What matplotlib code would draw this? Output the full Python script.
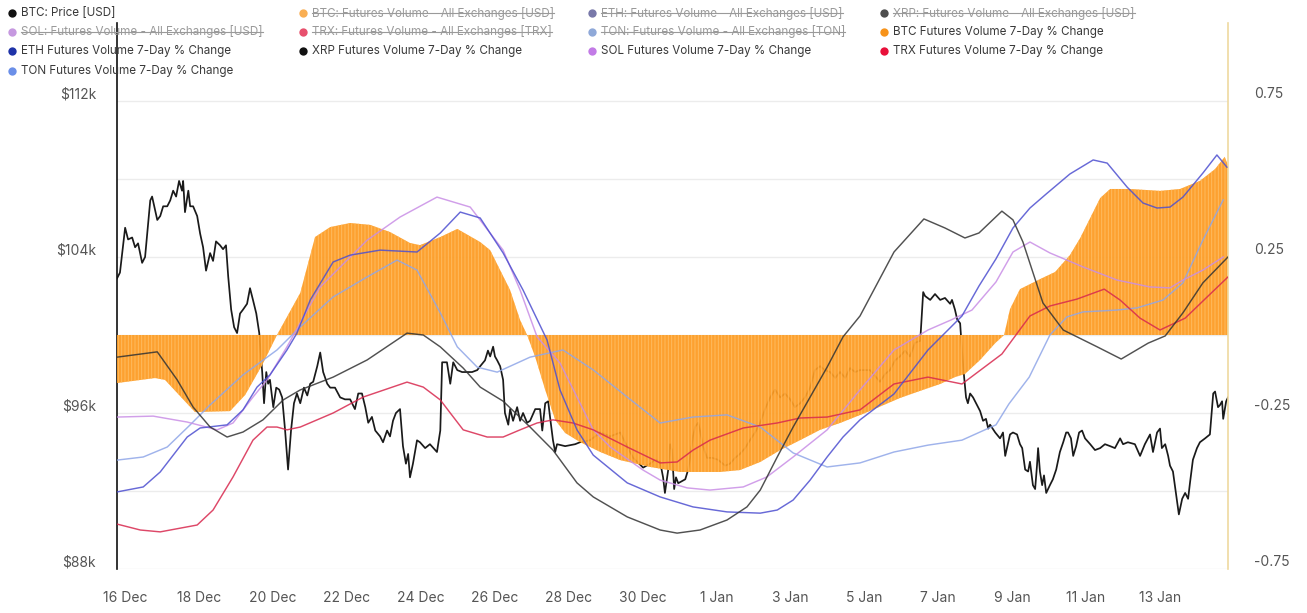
import matplotlib
matplotlib.use("Agg")
import matplotlib.pyplot as plt
from matplotlib.lines import Line2D

W, H = 1307, 613

# x values are days since 16 Dec (00:00)
date_ticks = list(range(0, 29, 2))
date_labels = ["16 Dec", "18 Dec", "20 Dec", "22 Dec", "24 Dec", "26 Dec", "28 Dec",
               "30 Dec", "1 Jan", "3 Jan", "5 Jan", "7 Jan", "9 Jan", "11 Jan", "13 Jan"]

price_ticks = [88, 96, 104, 112]
change_ticks = [-0.75, -0.25, 0.25, 0.75]

# BTC price, thousands of USD
price_days = [-0.22, -0.14, 0.00, 0.08, 0.19, 0.27, 0.35, 0.46, 0.54, 0.68, 0.73, 0.87, 0.95, 1.03, 1.14,
              1.22, 1.30, 1.38, 1.46, 1.54, 1.57, 1.62, 1.71, 1.76, 1.84, 1.95, 2.03, 2.11, 2.19, 2.30,
              2.38, 2.46, 2.57, 2.65, 2.73, 2.79, 2.87, 2.95, 3.03, 3.11, 3.19, 3.30, 3.38, 3.46, 3.55,
              3.63, 3.71, 3.76, 3.82, 3.87, 3.92, 4.01, 4.09, 4.17, 4.25, 4.33, 4.41, 4.49, 4.57, 4.65,
              4.74, 4.84, 4.93, 5.01, 5.09, 5.20, 5.28, 5.36, 5.47, 5.55, 5.68, 5.82, 5.95, 6.09, 6.22,
              6.31, 6.41, 6.50, 6.58, 6.68, 6.77, 6.90, 6.98, 7.09, 7.17, 7.25, 7.33, 7.44, 7.52, 7.60,
              7.66, 7.71, 7.79, 7.90, 7.98, 8.12, 8.25, 8.44, 8.53, 8.58, 8.71, 8.80, 8.88, 8.99, 9.12,
              9.26, 9.39, 9.53, 9.61, 9.74, 9.82, 9.88, 9.96, 10.01, 10.07, 10.15, 10.23, 10.28, 10.37,
              10.42, 10.50, 10.61, 10.69, 10.77, 10.88, 10.96, 11.10, 11.23, 11.29, 11.37, 11.45, 11.50,
              11.58, 11.64, 11.69, 11.91, 12.18, 12.31, 12.58, 12.86, 13.13, 13.40, 13.53, 13.75, 14.02,
              14.21, 14.34, 14.48, 14.56, 14.61, 14.70, 14.75, 14.80, 14.86, 14.91, 14.97, 15.16, 15.24,
              15.29, 15.37, 15.43, 15.51, 15.56, 15.64, 15.75, 15.89, 16.05, 16.24, 16.37, 16.51, 16.64,
              16.78, 16.91, 17.05, 17.19, 17.32, 17.46, 17.59, 17.73, 17.86, 18.00, 18.13, 18.27, 18.40,
              18.54, 18.67, 18.81, 18.94, 19.08, 19.22, 19.35, 19.49, 19.62, 19.76, 19.89, 20.16, 20.43,
              20.57, 20.70, 20.84, 20.97, 21.11, 21.24, 21.38, 21.52, 21.60, 21.65, 21.79, 21.92, 22.06,
              22.19, 22.33, 22.38, 22.46, 22.52, 22.60, 22.65, 22.71, 22.76, 22.81, 22.87, 22.95, 23.03,
              23.14, 23.22, 23.30, 23.36, 23.41, 23.55, 23.68, 23.76, 23.82, 23.95, 24.03, 24.14, 24.22,
              24.28, 24.36, 24.44, 24.49, 24.57, 24.63, 24.68, 24.71, 24.76, 24.82, 24.87, 24.93, 25.03,
              25.11, 25.20, 25.30, 25.39, 25.47, 25.52, 25.60, 25.66, 25.74, 25.82, 25.90, 25.98, 26.12,
              26.25, 26.39, 26.52, 26.66, 26.79, 26.93, 27.01, 27.14, 27.33, 27.47, 27.60, 27.74, 27.82,
              27.93, 28.01, 28.06, 28.15, 28.23, 28.28, 28.36, 28.44, 28.52, 28.61, 28.69, 28.77, 28.82,
              28.90, 29.01, 29.09, 29.23, 29.36, 29.45, 29.50, 29.58, 29.63, 29.69, 29.72, 29.80, 29.85]
price_k = [102.9, 103.2, 105.5, 104.9, 105.0, 104.5, 104.7, 103.7, 104.0, 106.9, 107.1, 105.9, 106.1, 106.6,
           106.6, 106.9, 107.4, 107.1, 107.9, 107.4, 107.9, 106.3, 107.4, 106.6, 106.6, 106.1, 105.2, 104.5,
           103.3, 104.2, 103.8, 104.8, 104.6, 104.4, 104.6, 103.0, 101.3, 100.4, 100.1, 101.1, 101.3, 101.6,
           102.4, 101.8, 101.1, 100.1, 98.1, 96.5, 98.1, 97.5, 97.7, 96.3, 97.3, 97.2, 96.8, 95.1, 93.1,
           95.1, 96.5, 97.0, 96.5, 97.3, 96.9, 97.5, 97.6, 98.4, 99.1, 98.1, 97.5, 97.3, 97.3, 96.8, 96.7,
           96.7, 96.2, 97.0, 97.0, 96.3, 95.5, 95.8, 95.1, 94.8, 94.5, 95.1, 94.8, 95.6, 96.0, 96.2, 94.3,
           93.4, 93.9, 92.7, 93.4, 94.6, 94.5, 94.2, 94.4, 94.0, 95.1, 98.6, 98.6, 97.5, 98.6, 98.2, 98.1,
           98.1, 98.1, 98.2, 98.4, 98.7, 99.2, 98.9, 99.4, 98.9, 98.7, 98.4, 97.7, 96.0, 95.4, 96.2, 95.6,
           96.3, 95.6, 96.0, 95.5, 95.6, 96.2, 96.2, 95.1, 96.5, 96.6, 95.8, 94.6, 94.0, 94.4, 94.3, 94.4,
           94.5, 94.6, 95.0, 94.8, 95.0, 94.5, 93.7, 93.2, 93.4, 93.6, 93.5, 92.7, 91.9, 93.1, 94.4, 94.1,
           92.1, 92.7, 92.4, 92.6, 93.1, 93.7, 94.8, 95.3, 95.5, 95.1, 94.3, 93.7, 93.7, 93.6, 93.3, 93.4,
           93.7, 93.9, 94.2, 94.6, 95.0, 95.5, 96.2, 96.8, 97.2, 96.8, 97.0, 96.7, 96.3, 96.5, 96.8, 97.3,
           98.2, 98.4, 98.2, 98.1, 97.8, 98.1, 97.8, 98.3, 98.1, 98.2, 98.2, 97.6, 98.0, 98.2, 98.7, 98.9,
           99.2, 98.9, 99.6, 99.7, 102.2, 102.0, 101.8, 102.1, 101.8, 101.9, 101.6, 101.8, 101.3, 100.8,
           100.6, 99.2, 97.8, 96.8, 96.5, 97.0, 96.8, 96.5, 96.1, 95.6, 95.7, 95.2, 95.4, 95.0, 94.7, 95.0,
           93.8, 94.9, 95.0, 94.9, 94.4, 94.2, 93.1, 93.0, 93.5, 92.3, 92.1, 93.3, 94.2, 93.0, 92.3, 92.8,
           91.9, 92.3, 92.6, 93.1, 94.0, 94.5, 95.0, 95.0, 94.7, 93.8, 94.3, 95.0, 95.1, 94.7, 94.4, 94.1,
           94.2, 94.4, 94.3, 94.2, 94.7, 94.4, 94.5, 94.4, 93.8, 94.4, 94.9, 94.0, 95.0, 95.2, 94.2, 94.4,
           93.8, 93.3, 93.0, 91.9, 90.8, 91.6, 91.9, 91.6, 92.4, 93.6, 94.2, 94.5, 94.7, 94.9, 97.0, 97.1,
           96.3, 96.4, 96.6, 95.7, 96.6, 96.8]

# futures volume, 7-day % change (right axis)
btc_chg_days = [-0.22, 0.81, 1.08, 1.89, 2.84, 3.25, 3.71, 4.11, 4.74, 5.14, 5.55, 6.09, 6.63, 7.17, 7.71,
                7.98, 8.53, 8.99, 9.61, 9.88, 10.15, 10.42, 10.69, 10.88, 11.10, 11.37, 11.64, 11.91, 12.31,
                12.86, 13.40, 14.21, 15.02, 16.10, 16.64, 17.19, 17.73, 18.27, 18.81, 19.35, 20.03, 20.97,
                21.52, 22.06, 22.46, 22.73, 23.14, 23.55, 23.79, 23.95, 24.22, 24.76, 25.17, 25.57, 25.85,
                26.12, 26.39, 26.66, 27.20, 28.01, 28.55, 29.09, 29.50, 29.76, 29.85]
btc_chg = [-0.154, -0.138, -0.144, -0.247, -0.244, -0.192, -0.096, 0.0, 0.135, 0.314, 0.346, 0.359, 0.353,
           0.330, 0.295, 0.288, 0.314, 0.340, 0.298, 0.272, 0.208, 0.144, 0.048, 0.0, -0.071, -0.176, -0.272,
           -0.314, -0.343, -0.375, -0.401, -0.423, -0.439, -0.439, -0.433, -0.407, -0.369, -0.337, -0.304,
           -0.282, -0.250, -0.202, -0.179, -0.157, -0.135, -0.125, -0.080, -0.026, 0.0, 0.083, 0.147, 0.179,
           0.202, 0.256, 0.311, 0.375, 0.439, 0.468, 0.468, 0.462, 0.468, 0.494, 0.532, 0.571, 0.545]

eth_days = [-0.22, 0.49, 0.95, 1.68, 2.03, 2.76, 3.19, 3.57, 3.92, 4.38, 4.65, 5.01, 5.63, 6.09, 6.90, 7.90,
            8.53, 9.07, 9.61, 10.23, 10.77, 11.42, 11.77, 12.23, 12.67, 13.59, 14.48, 15.37, 16.29, 17.19,
            17.65, 18.08, 18.54, 19.00, 19.43, 19.89, 20.81, 21.73, 22.65, 23.11, 23.57, 24.03, 24.49, 24.93,
            25.57, 26.20, 26.58, 27.12, 27.55, 27.93, 28.28, 28.63, 29.17, 29.55, 29.82]
eth_chg = [-0.503, -0.487, -0.439, -0.327, -0.298, -0.288, -0.240, -0.167, -0.128, -0.048, 0.006, 0.112,
           0.234, 0.256, 0.272, 0.266, 0.327, 0.394, 0.375, 0.263, 0.144, -0.016, -0.176, -0.304, -0.385,
           -0.474, -0.519, -0.551, -0.567, -0.571, -0.561, -0.529, -0.465, -0.391, -0.327, -0.272, -0.189,
           -0.048, 0.061, 0.157, 0.244, 0.343, 0.407, 0.452, 0.516, 0.561, 0.551, 0.474, 0.423, 0.407, 0.410,
           0.442, 0.519, 0.577, 0.538]

xrp_days = [-0.22, 0.87, 1.41, 1.84, 2.30, 2.76, 3.19, 3.73, 4.28, 4.74, 5.63, 6.55, 7.63, 8.07, 8.53, 9.15,
            9.61, 10.23, 10.96, 11.58, 12.23, 12.67, 13.59, 14.48, 14.94, 15.56, 16.29, 16.83, 17.19, 17.65,
            18.08, 18.54, 19.00, 19.43, 19.89, 20.81, 21.62, 22.19, 22.73, 23.11, 23.73, 24.03, 24.30, 24.84,
            25.39, 26.31, 26.96, 27.69, 28.15, 28.63, 29.17, 29.85]
xrp_chg = [-0.071, -0.054, -0.144, -0.231, -0.295, -0.327, -0.311, -0.272, -0.208, -0.176, -0.135, -0.080,
           0.006, 0.0, -0.038, -0.106, -0.167, -0.212, -0.295, -0.369, -0.474, -0.519, -0.583, -0.625, -0.635,
           -0.625, -0.593, -0.551, -0.497, -0.391, -0.295, -0.199, -0.103, -0.006, 0.061, 0.266, 0.372, 0.343,
           0.311, 0.327, 0.397, 0.369, 0.298, 0.103, 0.016, -0.038, -0.077, -0.026, -0.003, 0.071, 0.167, 0.250]

sol_days = [-0.22, 0.76, 1.68, 2.49, 2.92, 3.46, 3.84, 4.38, 5.28, 6.55, 7.44, 8.44, 9.34, 10.23, 10.69, 11.15,
            11.77, 12.23, 12.67, 13.13, 14.02, 14.48, 15.21, 15.83, 16.73, 17.37, 18.08, 19.00, 19.89, 20.81,
            21.73, 22.35, 22.92, 23.57, 24.03, 24.49, 25.03, 25.93, 26.85, 27.74, 28.28, 28.63, 29.17, 29.72]
sol_chg = [-0.263, -0.260, -0.279, -0.304, -0.282, -0.199, -0.144, -0.038, 0.154, 0.304, 0.378, 0.442, 0.410,
           0.272, 0.144, -0.006, -0.090, -0.199, -0.304, -0.359, -0.433, -0.465, -0.490, -0.497, -0.487,
           -0.455, -0.391, -0.304, -0.176, -0.048, 0.016, 0.048, 0.080, 0.170, 0.266, 0.298, 0.263, 0.218,
           0.176, 0.154, 0.151, 0.176, 0.208, 0.250]

trx_days = [-0.22, 0.41, 0.95, 1.95, 2.38, 2.92, 3.46, 3.84, 4.11, 4.38, 4.74, 5.63, 6.44, 7.63, 8.07, 8.53,
            8.80, 9.15, 9.80, 10.23, 10.69, 11.15, 11.58, 12.12, 12.67, 13.59, 14.48, 14.94, 15.37, 15.83,
            16.73, 17.65, 18.27, 19.00, 19.89, 20.81, 21.73, 22.65, 23.73, 24.49, 25.03, 25.76, 26.50, 26.93,
            27.47, 28.01, 28.69, 29.26, 29.85]
trx_chg = [-0.606, -0.625, -0.631, -0.609, -0.561, -0.455, -0.337, -0.295, -0.295, -0.304, -0.295, -0.250,
           -0.199, -0.151, -0.167, -0.208, -0.250, -0.304, -0.327, -0.327, -0.304, -0.282, -0.272, -0.282,
           -0.304, -0.359, -0.410, -0.407, -0.369, -0.337, -0.298, -0.282, -0.266, -0.263, -0.240, -0.157,
           -0.135, -0.157, -0.061, 0.061, 0.093, 0.115, 0.147, 0.112, 0.054, 0.016, 0.054, 0.119, 0.186]

ton_days = [-0.22, 0.49, 1.14, 1.76, 2.30, 3.19, 4.11, 4.74, 5.63, 6.55, 7.36, 7.90, 8.53, 8.99, 9.53, 10.07,
            10.96, 11.85, 12.67, 13.59, 14.48, 15.37, 16.29, 17.19, 18.08, 19.00, 19.89, 20.81, 21.73, 22.65,
            23.57, 23.92, 24.47, 25.03, 25.49, 25.93, 26.85, 27.39, 28.09, 28.63, 29.17, 29.72]
ton_chg = [-0.401, -0.391, -0.359, -0.288, -0.224, -0.128, -0.048, 0.026, 0.122, 0.186, 0.240, 0.208, 0.071,
           -0.038, -0.103, -0.119, -0.071, -0.048, -0.112, -0.199, -0.282, -0.263, -0.256, -0.295, -0.378,
           -0.423, -0.410, -0.375, -0.353, -0.337, -0.288, -0.221, -0.135, 0.0, 0.058, 0.074, 0.080, 0.087,
           0.112, 0.167, 0.304, 0.433]

legend_labels = [
    "BTC: Price [USD]", "BTC: Futures Volume - All Exchanges [USD]",
    "ETH: Futures Volume - All Exchanges [USD]", "XRP: Futures Volume - All Exchanges [USD]",
    "SOL: Futures Volume - All Exchanges [USD]", "TRX: Futures Volume - All Exchanges [TRX]",
    "TON: Futures Volume - All Exchanges [TON]", "BTC Futures Volume 7-Day % Change",
    "ETH Futures Volume 7-Day % Change", "XRP Futures Volume 7-Day % Change",
    "SOL Futures Volume 7-Day % Change", "TRX Futures Volume 7-Day % Change",
    "TON Futures Volume 7-Day % Change",
]
legend_colors = ["#111111", "#f7931a", "#4b4b8c", "#111111", "#b377d6", "#e0163c", "#6a8ccc",
                 "#f7931a", "#1f33a8", "#111111", "#c27be6", "#e8103a", "#6b8fe8"]
legend_hidden = [False, True, True, True, True, True, True, False, False, False, False, False, False]

plt.rcParams["font.family"] = ["Inter", "DejaVu Sans"]
plt.rcParams["hatch.linewidth"] = 0.7


def draw_legend(fig):
    col_x = [12, 303, 592, 884]
    row_y = [13, 32, 51, 71]
    struck = []
    for i, label in enumerate(legend_labels):
        r, c = divmod(i, 4)
        x, y = col_x[c] / W, 1 - row_y[r] / H
        hidden = legend_hidden[i]
        fig.add_artist(Line2D([x], [y], marker="o", ms=6, mew=0, linestyle="none",
                              color=legend_colors[i], alpha=0.75 if hidden else 1.0,
                              transform=fig.transFigure))
        t = fig.text(x + 9 / W, y, label, ha="left", va="center", fontsize=8.4,
                     color="#9a9a9a" if hidden else "#3a3a3a")
        if hidden:
            struck.append(t)

    renderer = fig.canvas.get_renderer()
    for t in struck:
        bb = t.get_window_extent(renderer)
        ym = (bb.y0 + bb.y1) / 2 / H
        fig.add_artist(Line2D([bb.x0 / W, bb.x1 / W], [ym, ym], color="#9a9a9a", lw=0.8,
                              transform=fig.transFigure))


def main() -> None:
    fig = plt.figure(figsize=(W / 100, H / 100), dpi=100)
    ax = fig.add_axes([117 / W, 1 - 569 / H, (1228 - 117) / W, (569 - 23) / H])
    ax2 = ax.twinx()

    ax.set_xlim(-0.22, 29.85)
    ax.set_ylim(88, 116)
    ax2.set_ylim(-0.75, 1.0)

    for g in range(88, 116, 4):
        ax.axhline(g, color="#ececec", lw=1.0, zorder=0)

    ax.plot(price_days, price_k, color="#1a1a1a", lw=1.25, zorder=2)

    ax2.fill_between(btc_chg_days, 0, btc_chg, facecolor="#fd9a20", edgecolor="#ffbd63",
                     hatch="|||||", linewidth=0, alpha=0.93, zorder=1)

    series = [
        (ton_days, ton_chg, "#8fa6e8"),
        (sol_days, sol_chg, "#c98ee6"),
        (trx_days, trx_chg, "#d8284e"),
        (eth_days, eth_chg, "#4d4fd0"),
        (xrp_days, xrp_chg, "#333333"),
    ]
    for days, vals, color in series:
        ax2.plot(days, vals, color=color, lw=1.05, alpha=0.85, zorder=3,
                 solid_joinstyle="round")

    ax.set_xticks(date_ticks)
    ax.set_xticklabels(date_labels)
    ax.set_yticks(price_ticks)
    ax.set_yticklabels([f"${v}k" for v in price_ticks])
    ax2.set_yticks(change_ticks)
    ax2.set_yticklabels([f"{v:.2f}" for v in change_ticks])

    ax.tick_params(axis="x", length=0, pad=16, labelsize=10, labelcolor="#555555")
    ax.tick_params(axis="y", length=0, pad=15, labelsize=10, labelcolor="#555555")
    ax2.tick_params(axis="y", length=0, pad=19, labelsize=10, labelcolor="#555555")
    for lab in ax.get_yticklabels() + ax2.get_yticklabels():
        lab.set_verticalalignment("bottom")

    for side in ["top", "right", "bottom"]:
        ax.spines[side].set_visible(False)
    ax.spines["left"].set_color("#111111")
    ax.spines["left"].set_linewidth(1.2)
    for side in ["top", "left", "bottom"]:
        ax2.spines[side].set_visible(False)
    ax2.spines["right"].set_color("#efd9a0")
    ax2.spines["right"].set_linewidth(1.2)

    draw_legend(fig)
    fig.savefig("out.png", dpi=100)


if __name__ == "__main__":
    main()
